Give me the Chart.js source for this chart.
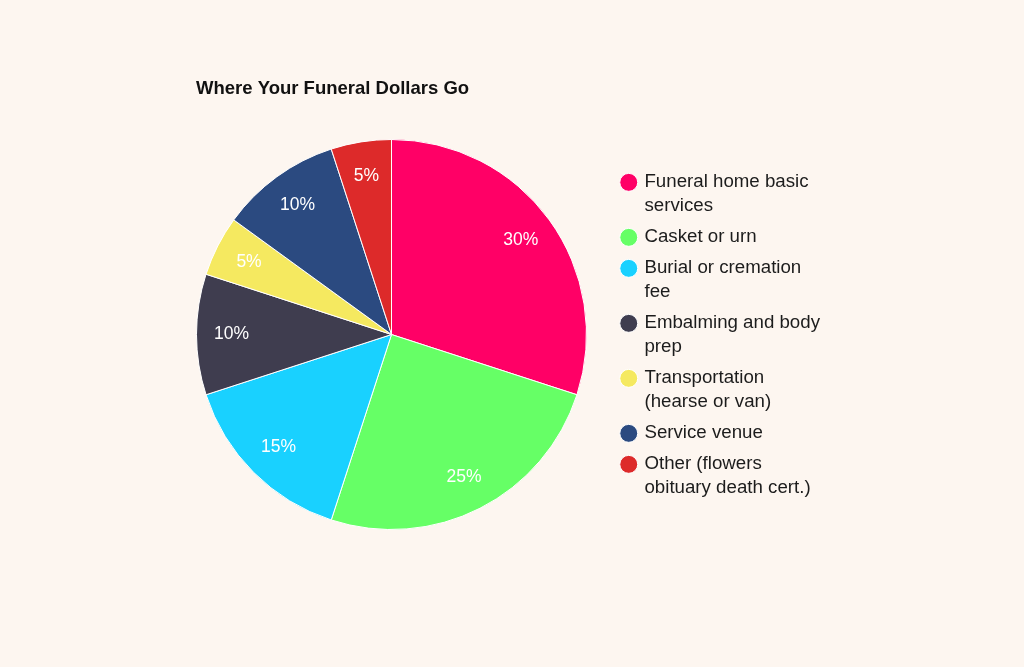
<!DOCTYPE html>
<html>
<head>
<meta charset="utf-8">
<script src="https://cdn.jsdelivr.net/npm/chart.js@4/dist/chart.umd.min.js"></script>
<style>
  html, body { margin: 0; padding: 0; background: #fdf6f0; }
  #wrap { width: 1024px; height: 667px; }
</style>
</head>
<body>
<div id="wrap"><canvas id="chart"></canvas></div>
<script>
// data
const categories = [
    ['Funeral home basic', 'services'],
    ['Casket or urn'],
    ['Burial or cremation', 'fee'],
    ['Embalming and body', 'prep'],
    ['Transportation', '(hearse or van)'],
    ['Service venue'],
    ['Other (flowers', 'obituary death cert.)']
];
const shares = [30, 25, 15, 10, 5, 10, 5];
const colors = ['#ff0066', '#66ff66', '#19d1ff', '#3f3d4f', '#f5e960', '#2b4a80', '#dd2a2a'];

const FONT = "'Liberation Sans', Arial, Helvetica, sans-serif";

// put the pie where the reference has it, independent of the legend width
const pieArea = {
    id: 'pieArea',
    afterLayout(chart) {
        const a = chart.chartArea;
        a.left = 196;
        a.right = 587;
        a.top = 139;
        a.bottom = 530;
        a.width = a.right - a.left;
        a.height = a.bottom - a.top;
    }
};

// percentage labels inside the slices
const sliceLabels = {
    id: 'sliceLabels',
    afterDatasetsDraw(chart) {
        const ctx = chart.ctx;
        const meta = chart.getDatasetMeta(0);
        ctx.save();
        ctx.fillStyle = '#ffffff';
        ctx.font = '17.5px ' + FONT;
        ctx.textAlign = 'center';
        ctx.textBaseline = 'middle';
        meta.data.forEach((arc, i) => {
            const p = arc.getProps(['x', 'y', 'startAngle', 'endAngle', 'outerRadius'], true);
            const mid = (p.startAngle + p.endAngle) / 2;
            const r = p.outerRadius * 0.82;
            ctx.fillText(shares[i] + '%', p.x + Math.cos(mid) * r, p.y + Math.sin(mid) * r);
        });
        ctx.restore();
    }
};

new Chart(document.getElementById('chart'), {
    type: 'pie',
    data: {
        labels: categories,
        datasets: [{
            data: shares,
            backgroundColor: colors,
            borderColor: '#ffffff',
            borderWidth: 1
        }]
    },
    options: {
        responsive: true,
        maintainAspectRatio: false,
        animation: false,
        layout: {
            padding: { top: 78, left: 196, right: 194, bottom: 69 }
        },
        plugins: {
            title: {
                display: true,
                text: 'Where Your Funeral Dollars Go',
                align: 'start',
                color: '#111111',
                font: { family: FONT, size: 18.5, weight: 'bold', lineHeight: 1.2 },
                padding: { top: 0, bottom: 88 }
            },
            legend: {
                position: 'right',
                labels: {
                    usePointStyle: true,
                    pointStyle: 'circle',
                    boxWidth: 12.7,
                    boxHeight: 12.7,
                    padding: 7,
                    color: '#1c1c1c',
                    font: { family: FONT, size: 18.7, lineHeight: 24 / 18.7 }
                }
            },
            tooltip: { enabled: false }
        }
    },
    plugins: [pieArea, sliceLabels]
});
</script>
</body>
</html>
